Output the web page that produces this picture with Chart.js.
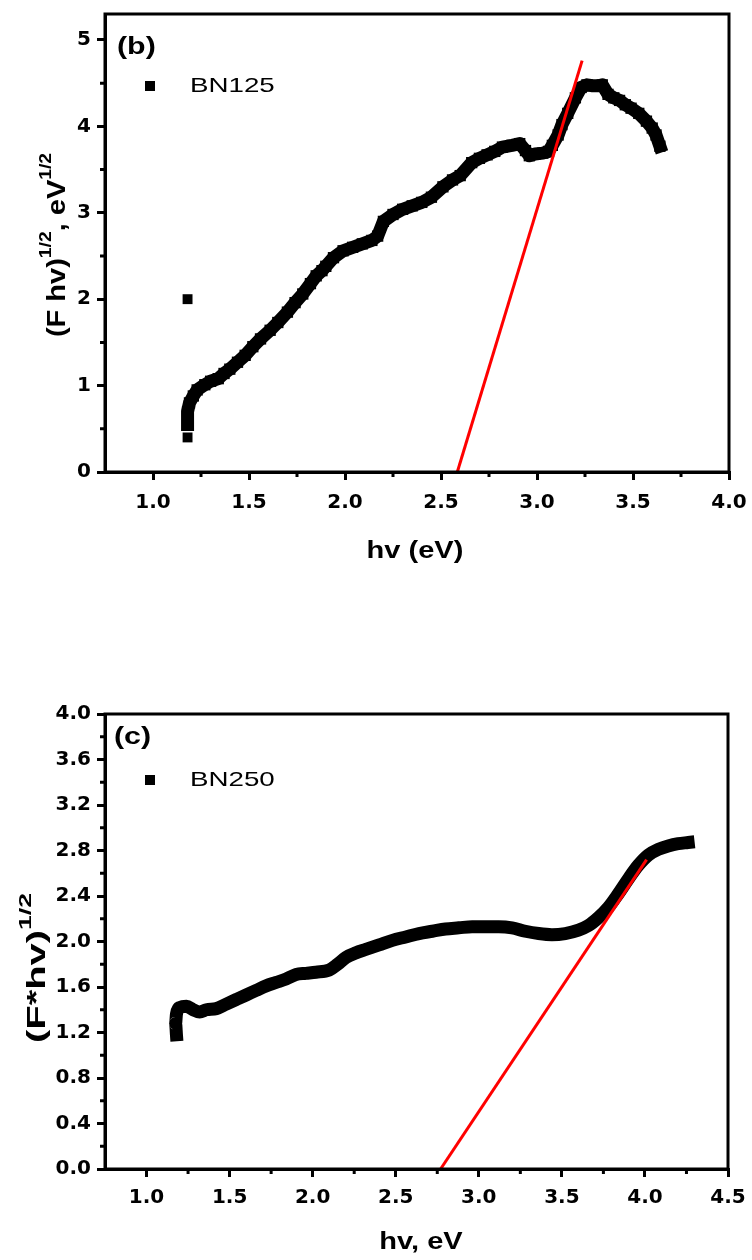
<!DOCTYPE html>
<html>
<head>
<meta charset="utf-8">
<script src="https://cdn.jsdelivr.net/npm/chart.js@4.4.1/dist/chart.umd.min.js"></script>
<style>
  body { margin: 0; background: #fff; }
  .box { position: relative; width: 752px; height: 630px; }
</style>
</head>
<body>
<div class="box"><canvas id="chartB"></canvas></div>
<div class="box"><canvas id="chartC"></canvas></div>
<script>
// ---- panel (b): BN125 ----
const bnLabel1 = "BN125";
const hv1 = [1.18, 1.18, 1.19, 1.21, 1.23, 1.27, 1.30, 1.34, 1.37, 1.40, 1.44, 1.48, 1.52, 1.56, 1.61, 1.65, 1.70, 1.74, 1.78, 1.82,
  1.85, 1.88, 1.90, 1.94, 1.99, 2.04, 2.09, 2.14, 2.17, 2.20, 2.25, 2.30, 2.35, 2.40, 2.45, 2.51, 2.56, 2.60, 2.66, 2.70,
  2.74, 2.78, 2.82, 2.87, 2.91, 2.94, 2.96, 2.99, 3.03, 3.06, 3.08, 3.11, 3.13, 3.16, 3.20, 3.23, 3.26, 3.29, 3.32, 3.34,
  3.37, 3.40, 3.43, 3.46, 3.49, 3.53, 3.57, 3.60, 3.62, 3.64];
const fhv1 = [0.55, 0.70, 0.80, 0.88, 0.95, 1.01, 1.05, 1.08, 1.14, 1.19, 1.27, 1.35, 1.45, 1.54, 1.64, 1.73, 1.85, 1.96, 2.06, 2.18,
  2.27, 2.33, 2.38, 2.48, 2.56, 2.60, 2.64, 2.68, 2.73, 2.90, 2.98, 3.04, 3.08, 3.12, 3.18, 3.30, 3.38, 3.43, 3.58, 3.63,
  3.67, 3.71, 3.76, 3.78, 3.80, 3.72, 3.66, 3.68, 3.69, 3.71, 3.78, 3.90, 4.02, 4.15, 4.33, 4.45, 4.48, 4.47, 4.47, 4.48,
  4.37, 4.33, 4.30, 4.25, 4.21, 4.15, 4.06, 3.98, 3.90, 3.77];
// stray points
const strayHv1 = [1.18, 1.18];
const strayFhv1 = [2.0, 0.40];
// tangent (fit) line
const fitHv1 = [2.585, 3.235];
const fitFhv1 = [0, 4.76];
const xTicks1 = [1.0, 1.5, 2.0, 2.5, 3.0, 3.5, 4.0];
const xMinor1 = [1.25, 1.75, 2.25, 2.75, 3.25, 3.75];
const yTicks1 = [0, 1, 2, 3, 4, 5];
const yMinor1 = [0.5, 1.5, 2.5, 3.5, 4.5];

// ---- panel (c): BN250 ----
const bnLabel2 = "BN250";
const hv2 = [1.18, 1.175, 1.18, 1.20, 1.24, 1.28, 1.32, 1.36, 1.42, 1.48, 1.54, 1.60, 1.66, 1.72, 1.78, 1.84, 1.90, 1.96, 2.02, 2.10,
  2.15, 2.20, 2.26, 2.32, 2.40, 2.48, 2.56, 2.64, 2.72, 2.80, 2.88, 2.96, 3.04, 3.12, 3.20, 3.28, 3.36, 3.44, 3.52, 3.60,
  3.66, 3.72, 3.78, 3.84, 3.90, 3.96, 4.02, 4.08, 4.14, 4.20, 4.26];
const fhv2 = [1.18, 1.28, 1.36, 1.42, 1.43, 1.40, 1.38, 1.40, 1.41, 1.45, 1.49, 1.53, 1.57, 1.61, 1.64, 1.67, 1.71, 1.72, 1.73, 1.75,
  1.80, 1.86, 1.90, 1.93, 1.97, 2.01, 2.04, 2.07, 2.09, 2.11, 2.12, 2.13, 2.13, 2.13, 2.12, 2.09, 2.07, 2.06, 2.07, 2.10,
  2.14, 2.21, 2.30, 2.42, 2.55, 2.67, 2.76, 2.81, 2.84, 2.86, 2.87];
const fitHv2 = [2.77, 4.01];
const fitFhv2 = [0, 2.72];
const xTicks2 = [1.0, 1.5, 2.0, 2.5, 3.0, 3.5, 4.0, 4.5];
const xMinor2 = [1.25, 1.75, 2.25, 2.75, 3.25, 3.75, 4.25];
const yTicks2 = [0, 0.4, 0.8, 1.2, 1.6, 2.0, 2.4, 2.8, 3.2, 3.6, 4.0];
const yMinor2 = [0.2, 0.6, 1.0, 1.4, 1.8, 2.2, 2.6, 3.0, 3.4, 3.8];

const FONT = "'Liberation Sans', Arial, sans-serif";
const STRETCH = 1.32;  // the figure's text is wide

function pts(xs, ys) {
  return xs.map((x, i) => ({ x: x, y: ys[i] }));
}

function drawRich(ctx, parts, cx, cy, angle, sAlong, sAcross) {
  ctx.save();
  ctx.translate(cx, cy);
  ctx.rotate(angle);
  ctx.scale(sAlong, sAcross);
  let total = 0;
  parts.forEach(p => { ctx.font = p.font; p.w = ctx.measureText(p.text).width; total += p.w; });
  let x = -total / 2;
  ctx.fillStyle = "#000";
  ctx.textBaseline = "alphabetic";
  ctx.textAlign = "left";
  parts.forEach(p => { ctx.font = p.font; ctx.fillText(p.text, x, p.dy); x += p.w; });
  ctx.restore();
}

function drawWide(ctx, text, x, y, font) {
  ctx.save();
  ctx.translate(x, y);
  ctx.scale(STRETCH, 1);
  ctx.font = font;
  ctx.fillStyle = "#000";
  ctx.textBaseline = "middle";
  ctx.textAlign = "left";
  ctx.fillText(text, 0, 0);
  ctx.restore();
}

const figText = {
  id: "figText",
  afterDraw(chart, args, o) {
    const ctx = chart.ctx, a = chart.chartArea;
    const xs = chart.scales.x, ys = chart.scales.y;
    ctx.save();
    // frame
    ctx.strokeStyle = "#000";
    ctx.lineWidth = 3;
    ctx.strokeRect(a.left, a.top, a.right - a.left, a.bottom - a.top);
    // minor ticks
    ctx.beginPath();
    o.xMinor.forEach(v => { const p = xs.getPixelForValue(v); ctx.moveTo(p, a.bottom); ctx.lineTo(p, a.bottom + 5); });
    o.yMinor.forEach(v => { const p = ys.getPixelForValue(v); ctx.moveTo(a.left, p); ctx.lineTo(a.left - 5, p); });
    ctx.stroke();
    // panel letter and legend
    drawWide(ctx, o.panel, a.left + o.panelPos[0], a.top + o.panelPos[1], "bold 23px " + FONT);
    ctx.fillStyle = "#000";
    ctx.fillRect(a.left + o.legPos[0] - 5, a.top + o.legPos[1] - 5, 10, 10);
    drawWide(ctx, o.legend, a.left + o.legPos[0] + 40, a.top + o.legPos[1], "21px " + FONT);
    // x title
    drawRich(ctx, o.xTitle, o.xTitlePos[0], o.xTitlePos[1], 0, STRETCH, 1.1);
    // y title
    drawRich(ctx, o.yTitle, o.yTitlePos[0], o.yTitlePos[1], -Math.PI / 2, o.yAlong, 1.2);
    ctx.restore();
  }
};

function axes(xMin, xMax, xTicks, xFmt, yMin, yMax, yTicks, yFmt, bottomH, xPad) {
  const grid = { display: true, drawOnChartArea: false, drawTicks: true, tickLength: 8, color: "#000", lineWidth: 3 };
  const border = { display: true, color: "#000", width: 3 };
  const tickFont = { family: "'DejaVu Sans', sans-serif", size: 20, weight: "bold" };
  return {
    x: {
      type: "linear", min: xMin, max: xMax,
      grid: grid, border: border,
      ticks: { color: "#000", font: tickFont, padding: xPad, maxRotation: 0, autoSkip: false, includeBounds: false,
        callback: v => xFmt(v) },
      afterBuildTicks: s => { s.ticks = xTicks.map(v => ({ value: v })); },
      afterFit: s => { s.height = bottomH; s.paddingLeft = 0; s.paddingRight = 0; }
    },
    y: {
      type: "linear", min: yMin, max: yMax,
      grid: grid, border: border,
      ticks: { color: "#000", font: tickFont, padding: 6, autoSkip: false, includeBounds: false,
        callback: v => yFmt(v) },
      afterBuildTicks: s => { s.ticks = yTicks.map(v => ({ value: v })); },
      afterFit: s => { s.width = 105; s.paddingTop = 0; s.paddingBottom = 0; }
    }
  };
}

const bold22 = "bold 22px " + FONT;
const bold21 = "bold 21px " + FONT;
const bold14 = "bold 14px " + FONT;

new Chart(document.getElementById("chartB").getContext("2d"), {
  type: "scatter",
  data: {
    datasets: [
      { label: "fit", data: pts(fitHv1, fitFhv1), showLine: true, borderColor: "#ff0000", borderWidth: 3,
        pointRadius: 0, order: 0 },
      { label: bnLabel1, data: pts(hv1, fhv1), showLine: true, borderColor: "#000", borderWidth: 13,
        borderJoinStyle: "round", borderCapStyle: "square", pointStyle: "rect", pointRadius: 8,
        backgroundColor: "#000", pointBorderWidth: 0, order: 1 },
      { label: "stray", data: pts(strayHv1, strayFhv1), showLine: false, pointStyle: "rect", pointRadius: 7,
        backgroundColor: "#000", pointBorderWidth: 0, order: 1 }
    ]
  },
  options: {
    responsive: true, maintainAspectRatio: false, animation: false,
    layout: { padding: { top: 14, right: 23, left: 0, bottom: 0 } },
    plugins: {
      legend: { display: false }, tooltip: { enabled: false },
      figText: {
        panel: "(b)", panelPos: [12, 34], legend: bnLabel1, legPos: [45, 72],
        xMinor: xMinor1, yMinor: yMinor1,
        xTitle: [{ text: "hv (eV)", font: bold22, dy: 8 }], xTitlePos: [415, 549],
        yTitle: [{ text: "(F hv)", font: bold21, dy: 8 }, { text: "1/2", font: bold14, dy: -3 },
          { text: ", eV", font: bold21, dy: 8 }, { text: "1/2", font: bold14, dy: -3 }],
        yTitlePos: [55, 245], yAlong: 1.38
      }
    },
    scales: axes(0.75, 4.0, xTicks1, v => v.toFixed(1), 0, 5.3, yTicks1, v => String(v), 158, 11)
  },
  plugins: [figText]
});

new Chart(document.getElementById("chartC").getContext("2d"), {
  type: "scatter",
  data: {
    datasets: [
      { label: "fit", data: pts(fitHv2, fitFhv2), showLine: true, borderColor: "#ff0000", borderWidth: 3,
        pointRadius: 0, order: 0 },
      { label: bnLabel2, data: pts(hv2, fhv2), showLine: true, borderColor: "#000", borderWidth: 13,
        borderJoinStyle: "round", borderCapStyle: "square", tension: 0.4, cubicInterpolationMode: "monotone",
        pointRadius: 0, order: 1 }
    ]
  },
  options: {
    responsive: true, maintainAspectRatio: false, animation: false,
    layout: { padding: { top: 84, right: 24, left: 0, bottom: 0 } },
    plugins: {
      legend: { display: false }, tooltip: { enabled: false },
      figText: {
        panel: "(c)", panelPos: [9, 24], legend: bnLabel2, legPos: [45, 66],
        xMinor: xMinor2, yMinor: yMinor2,
        xTitle: [{ text: "hv, eV", font: bold22, dy: 8 }], xTitlePos: [421, 610],
        yTitle: [{ text: "(F*hv)", font: bold21, dy: 8 }, { text: "1/2", font: bold14, dy: -3 }],
        yTitlePos: [35, 338], yAlong: 1.9
      }
    },
    scales: axes(0.75, 4.5, xTicks2, v => v.toFixed(1), 0, 4.0, yTicks2, v => v.toFixed(1), 91, 9)
  },
  plugins: [figText]
});
</script>
</body>
</html>
